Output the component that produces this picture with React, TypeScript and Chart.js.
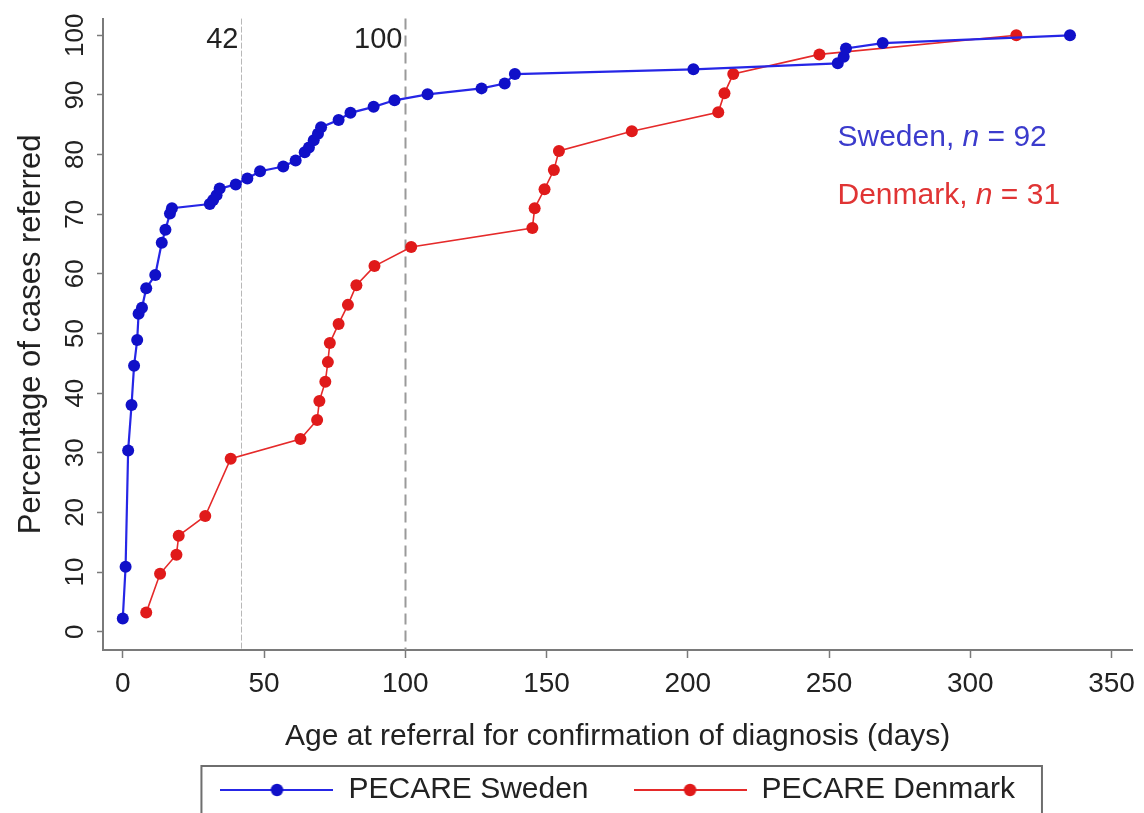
import React, { useEffect, useRef } from "react";
import { Chart, registerables } from "chart.js";

Chart.register(...registerables);

// ---- Data ----
const swedenDays = [0, 1, 1.9, 3.1, 4, 5.1, 5.6, 6.8, 8.3, 11.5, 13.8, 15.1, 16.7, 17.4, 30.8, 32, 33.2, 34.3, 40, 44.1, 48.6, 56.8, 61.2, 64.4, 65.9, 67.6, 69.1, 70.2, 76.4, 80.6, 88.8, 96.2, 107.9, 127, 135.2, 138.8, 202, 253.1, 255.2, 256, 269, 335.3];
const swedenPct = [2.2, 10.9, 30.4, 38.0, 44.6, 48.9, 53.3, 54.3, 57.6, 59.8, 65.2, 67.4, 70.1, 71.0, 71.7, 72.4, 73.2, 74.3, 75.0, 76.0, 77.2, 78.0, 79.0, 80.4, 81.2, 82.4, 83.5, 84.6, 85.8, 87.0, 88.0, 89.1, 90.1, 91.1, 91.9, 93.5, 94.3, 95.3, 96.4, 97.8, 98.7, 100];

const denmarkDays = [8.3, 13.2, 19.0, 19.8, 29.2, 38.2, 62.9, 68.8, 69.6, 71.7, 72.6, 73.3, 76.4, 79.7, 82.7, 89.1, 102.1, 145.0, 145.8, 149.3, 152.6, 154.4, 180.2, 210.8, 213.0, 216.1, 246.6, 316.3];
const denmarkPct = [3.2, 9.7, 12.9, 16.1, 19.4, 29.0, 32.3, 35.5, 38.7, 41.9, 45.2, 48.4, 51.6, 54.8, 58.1, 61.3, 64.5, 67.7, 71.0, 74.2, 77.4, 80.6, 83.9, 87.1, 90.3, 93.5, 96.8, 100];

const seriesLabels = ["PECARE Sweden", "PECARE Denmark"];
const xTickValues = [0, 50, 100, 150, 200, 250, 300, 350];
const yTickValues = [0, 10, 20, 30, 40, 50, 60, 70, 80, 90, 100];
const refLineDays = [42, 100];
const refLineLabels = ["42", "100"];
const xTitle = "Age at referral for confirmation of diagnosis (days)";
const yTitle = "Percentage of cases referred";
const noteCountry = ["Sweden", "Denmark"];
const noteN = ["92", "31"];

// ---- Styles ----
const FONT = "'Liberation Sans', Arial, Helvetica, sans-serif";
const BLUE_LINE = "#2626e6";
const BLUE_PT = "#1010c8";
const RED_LINE = "#e52a2a";
const RED_PT = "#e01a1a";
const AXIS = "#7a7a7a";
const TEXT = "#222222";

function makeLegendMarker(line: string, dot: string) {
  const c = document.createElement("canvas");
  c.width = 113;
  c.height = 14;
  const g = c.getContext("2d")!;
  g.strokeStyle = line;
  g.lineWidth = 2;
  g.beginPath();
  g.moveTo(0, 7);
  g.lineTo(113, 7);
  g.stroke();
  g.fillStyle = dot;
  g.beginPath();
  g.arc(56.5, 7, 6.2, 0, Math.PI * 2);
  g.fill();
  return c;
}

export default function App() {
  const ref = useRef<HTMLCanvasElement | null>(null);

  useEffect(() => {
    if (!ref.current) return;
    const markers = [makeLegendMarker(BLUE_LINE, BLUE_PT), makeLegendMarker(RED_LINE, RED_PT)];

    const refLinesPlugin = {
      id: "refLines",
      beforeDatasetsDraw(chart: any) {
        const { ctx, chartArea, scales } = chart;
        const x = scales.x;
        const y = scales.y;
        ctx.save();
        refLineDays.forEach((d, i) => {
          const px = Math.round(x.getPixelForValue(d)) + 0.5;
          ctx.beginPath();
          if (i === 0) {
            ctx.strokeStyle = "#b8b8b8";
            ctx.lineWidth = 1;
            ctx.setLineDash([6, 2]);
          } else {
            ctx.strokeStyle = "#9a9a9a";
            ctx.lineWidth = 2;
            ctx.setLineDash([11, 6]);
          }
          ctx.moveTo(px, chartArea.top);
          ctx.lineTo(px, chartArea.bottom);
          ctx.stroke();
          ctx.setLineDash([]);
          ctx.fillStyle = TEXT;
          ctx.font = `29px ${FONT}`;
          ctx.textAlign = "right";
          ctx.textBaseline = "alphabetic";
          ctx.fillText(refLineLabels[i], px - 3, y.getPixelForValue(97.8));
        });
        ctx.restore();
      },
    };

    const extrasPlugin = {
      id: "extras",
      afterDraw(chart: any) {
        const { ctx, scales } = chart;
        const x = scales.x;
        const y = scales.y;
        ctx.save();
        // rotated y tick labels
        ctx.fillStyle = TEXT;
        ctx.font = `26px ${FONT}`;
        ctx.textAlign = "center";
        ctx.textBaseline = "alphabetic";
        yTickValues.forEach((v) => {
          const py = y.getPixelForValue(v);
          ctx.save();
          ctx.translate(83, py);
          ctx.rotate(-Math.PI / 2);
          ctx.fillText(String(v), 0, 0);
          ctx.restore();
        });
        // annotations
        const notes = [
          { color: "#3b3bcc", yv: 81.4 },
          { color: "#e03434", yv: 71.7 },
        ];
        notes.forEach((n, i) => {
          let px = x.getPixelForValue(253);
          const py = y.getPixelForValue(n.yv);
          ctx.fillStyle = n.color;
          ctx.textAlign = "left";
          const a = `${noteCountry[i]}, `;
          ctx.font = `30px ${FONT}`;
          ctx.fillText(a, px, py);
          px += ctx.measureText(a).width;
          ctx.font = `italic 30px ${FONT}`;
          ctx.fillText("n", px, py);
          px += ctx.measureText("n").width;
          ctx.font = `30px ${FONT}`;
          ctx.fillText(` = ${noteN[i]}`, px, py);
        });
        // legend border
        const lg = chart.legend;
        const hb = lg.legendHitBoxes;
        if (hb && hb.length) {
          const left = hb[0].left - 19;
          const last = hb[hb.length - 1];
          const right = last.left + last.width + 27;
          ctx.strokeStyle = "#6e6e6e";
          ctx.lineWidth = 2;
          ctx.strokeRect(left, lg.top + 36, right - left, 120);
        }
        ctx.restore();
      },
    };

    const chart = new Chart(ref.current, {
      type: "line",
      data: {
        datasets: [
          {
            label: seriesLabels[0],
            data: swedenDays.map((d, i) => ({ x: d, y: swedenPct[i] })),
            borderColor: BLUE_LINE,
            backgroundColor: BLUE_PT,
            borderWidth: 2.2,
            pointRadius: 6,
            pointHoverRadius: 6,
            pointBorderWidth: 0,
            pointBackgroundColor: BLUE_PT,
            tension: 0,
          },
          {
            label: seriesLabels[1],
            data: denmarkDays.map((d, i) => ({ x: d, y: denmarkPct[i] })),
            borderColor: RED_LINE,
            backgroundColor: RED_PT,
            borderWidth: 1.6,
            pointRadius: 6,
            pointHoverRadius: 6,
            pointBorderWidth: 0,
            pointBackgroundColor: RED_PT,
            tension: 0,
          },
        ],
      },
      options: {
        responsive: false,
        animation: false,
        events: [],
        layout: { padding: { left: 0, right: 7, top: 18, bottom: 25 } },
        scales: {
          x: {
            type: "linear",
            min: -7,
            max: 357.4,
            afterFit: (s: any) => {
              s.height = 80;
            },
            afterBuildTicks: (s: any) => {
              s.ticks = xTickValues.map((v) => ({ value: v }));
            },
            border: { display: true, color: AXIS, width: 2 },
            grid: { drawOnChartArea: false, drawTicks: true, tickLength: 8, tickColor: AXIS, tickWidth: 1.5 },
            ticks: { color: TEXT, font: { size: 28, family: FONT }, padding: 9, maxRotation: 0, autoSkip: false },
            title: {
              display: true,
              text: xTitle,
              color: TEXT,
              font: { size: 30, family: FONT },
              padding: { top: 0, bottom: -25 },
            },
          },
          y: {
            type: "linear",
            min: -3.07,
            max: 102.8,
            afterFit: (s: any) => {
              s.width = 103;
            },
            afterBuildTicks: (s: any) => {
              s.ticks = yTickValues.map((v) => ({ value: v }));
            },
            border: { display: true, color: AXIS, width: 2 },
            grid: { drawOnChartArea: false, drawTicks: true, tickLength: 6, tickColor: AXIS, tickWidth: 1.5 },
            ticks: { color: "rgba(0,0,0,0)", font: { size: 26, family: FONT }, autoSkip: false },
            title: {
              display: true,
              text: yTitle,
              color: TEXT,
              font: { size: 31, family: FONT },
              padding: { top: 13, bottom: 0 },
            },
          },
        },
        plugins: {
          tooltip: { enabled: false },
          legend: {
            display: true,
            position: "bottom",
            fullSize: false,
            labels: {
              usePointStyle: true,
              pointStyleWidth: 113,
              padding: 45,
              color: TEXT,
              font: { size: 30, family: FONT },
              generateLabels: () =>
                seriesLabels.map((t, i) => ({
                  text: t,
                  pointStyle: markers[i],
                  fillStyle: "rgba(0,0,0,0)",
                  strokeStyle: "rgba(0,0,0,0)",
                  lineWidth: 0,
                  hidden: false,
                  datasetIndex: i,
                  fontColor: TEXT,
                })),
            },
          },
        },
      } as any,
      plugins: [refLinesPlugin, extrasPlugin],
    });

    return () => chart.destroy();
  }, []);

  return (
    <div
      style={{
        position: "fixed",
        left: 0,
        top: 0,
        width: 1144,
        height: 813,
        overflow: "hidden",
        background: "#ffffff",
      }}
    >
      <canvas ref={ref} width={1144} height={840} style={{ display: "block" }} />
    </div>
  );
}
